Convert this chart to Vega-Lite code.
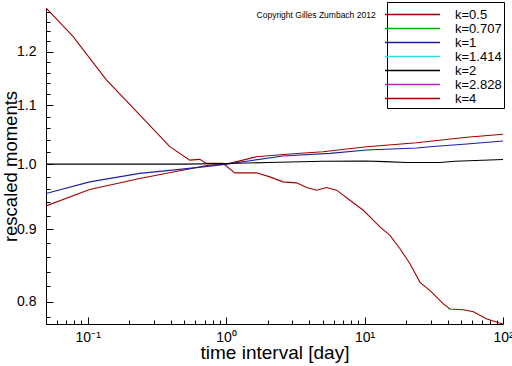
{
  "$schema": "https://vega.github.io/schema/vega-lite/v6.json",
  "width": 457,
  "height": 316,
  "autosize": {"type": "none"},
  "padding": {"left": 46, "top": 8, "right": 9, "bottom": 42},
  "background": "white",
  "config": {"view": {"stroke": null}, "font": "Liberation Sans"},
  "datasets": {
    "curves": [
      {"t": 0.05, "m": 1.288, "k": "k=4"},
      {"t": 0.0783, "m": 1.230, "k": "k=4"},
      {"t": 0.1365, "m": 1.1465, "k": "k=4"},
      {"t": 0.2377, "m": 1.083, "k": "k=4"},
      {"t": 0.3916, "m": 1.0286, "k": "k=4"},
      {"t": 0.5464, "m": 1.0065, "k": "k=4"},
      {"t": 0.6453, "m": 1.0077, "k": "k=4"},
      {"t": 0.7215, "m": 1.0011, "k": "k=4"},
      {"t": 0.9465, "m": 1.0011, "k": "k=4"},
      {"t": 1.156, "m": 0.9859, "k": "k=4"},
      {"t": 1.659, "m": 0.9859, "k": "k=4"},
      {"t": 2.07, "m": 0.9795, "k": "k=4"},
      {"t": 2.57, "m": 0.9716, "k": "k=4"},
      {"t": 3.228, "m": 0.970, "k": "k=4"},
      {"t": 3.814, "m": 0.9628, "k": "k=4"},
      {"t": 4.506, "m": 0.9586, "k": "k=4"},
      {"t": 5.321, "m": 0.9628, "k": "k=4"},
      {"t": 6.284, "m": 0.9586, "k": "k=4"},
      {"t": 7.843, "m": 0.9431, "k": "k=4"},
      {"t": 9.786, "m": 0.9279, "k": "k=4"},
      {"t": 10.94, "m": 0.9179, "k": "k=4"},
      {"t": 12.92, "m": 0.9031, "k": "k=4"},
      {"t": 15.26, "m": 0.8909, "k": "k=4"},
      {"t": 18.03, "m": 0.8717, "k": "k=4"},
      {"t": 21.29, "m": 0.8509, "k": "k=4"},
      {"t": 25.15, "m": 0.8255, "k": "k=4"},
      {"t": 29.71, "m": 0.8145, "k": "k=4"},
      {"t": 37.07, "m": 0.7971, "k": "k=4"},
      {"t": 41.45, "m": 0.7906, "k": "k=4"},
      {"t": 51.72, "m": 0.7897, "k": "k=4"},
      {"t": 61.09, "m": 0.7872, "k": "k=4"},
      {"t": 76.38, "m": 0.778, "k": "k=4"},
      {"t": 100, "m": 0.7716, "k": "k=4"},

      {"t": 0.05, "m": 0.9344, "k": "k=0.5"},
      {"t": 0.1034, "m": 0.9597, "k": "k=0.5"},
      {"t": 0.2377, "m": 0.977, "k": "k=0.5"},
      {"t": 0.4625, "m": 0.9892, "k": "k=0.5"},
      {"t": 0.7624, "m": 0.9984, "k": "k=0.5"},
      {"t": 1.0067, "m": 1.0, "k": "k=0.5"},
      {"t": 1.659, "m": 1.012, "k": "k=0.5"},
      {"t": 2.887, "m": 1.0164, "k": "k=0.5"},
      {"t": 5.003, "m": 1.0202, "k": "k=0.5"},
      {"t": 10.36, "m": 1.0286, "k": "k=0.5"},
      {"t": 23.81, "m": 1.0353, "k": "k=0.5"},
      {"t": 54.75, "m": 1.0444, "k": "k=0.5"},
      {"t": 100, "m": 1.0495, "k": "k=0.5"},

      {"t": 0.05, "m": 0.9535, "k": "k=1"},
      {"t": 0.1034, "m": 0.9716, "k": "k=1"},
      {"t": 0.2377, "m": 0.985, "k": "k=1"},
      {"t": 0.4625, "m": 0.9914, "k": "k=1"},
      {"t": 0.7624, "m": 0.9967, "k": "k=1"},
      {"t": 1.0067, "m": 1.0, "k": "k=1"},
      {"t": 1.484, "m": 1.0054, "k": "k=1"},
      {"t": 2.57, "m": 1.0131, "k": "k=1"},
      {"t": 5.619, "m": 1.0176, "k": "k=1"},
      {"t": 10.36, "m": 1.0231, "k": "k=1"},
      {"t": 23.81, "m": 1.0264, "k": "k=1"},
      {"t": 29.71, "m": 1.0286, "k": "k=1"},
      {"t": 54.75, "m": 1.0331, "k": "k=1"},
      {"t": 100, "m": 1.0381, "k": "k=1"},

      {"t": 0.05, "m": 1.0, "k": "k=2"},
      {"t": 0.5, "m": 1.0, "k": "k=2"},
      {"t": 1.0, "m": 1.001, "k": "k=2"},
      {"t": 2.0, "m": 1.0025, "k": "k=2"},
      {"t": 5.0, "m": 1.0045, "k": "k=2"},
      {"t": 10.0, "m": 1.005, "k": "k=2"},
      {"t": 14.0, "m": 1.004, "k": "k=2"},
      {"t": 20.0, "m": 1.0025, "k": "k=2"},
      {"t": 35.0, "m": 1.0025, "k": "k=2"},
      {"t": 45.0, "m": 1.0045, "k": "k=2"},
      {"t": 100, "m": 1.0075, "k": "k=2"}
    ],
    "notes": [{"label": "Copyright Gilles Zumbach 2012"}]
  },
  "layer": [
    {
      "data": {"name": "curves"},
      "mark": {"type": "line", "strokeWidth": 1.1, "clip": true},
      "encoding": {
        "x": {
          "field": "t",
          "type": "quantitative",
          "scale": {"type": "log", "domain": [0.05, 100], "nice": false},
          "axis": {
            "title": "time interval [day]",
            "values": [0.05, 0.06, 0.07, 0.08, 0.09, 0.1, 0.2, 0.3, 0.4, 0.5, 0.6, 0.7, 0.8, 0.9, 1, 2, 3, 4, 5, 6, 7, 8, 9, 10, 20, 30, 40, 50, 60, 70, 80, 90, 100],
            "labelExpr": "datum.value==0.1?'10⁻¹':datum.value==1?'10⁰':datum.value==10?'10¹':datum.value==100?'10²':''",
            "grid": false,
            "tickSize": {"condition": {"test": "datum.value==0.1||datum.value==1||datum.value==10||datum.value==100", "value": -7}, "value": -4},
            "tickColor": "black",
            "domainColor": "black",
            "labelColor": "black",
            "labelFontSize": 14,
            "labelPadding": 13,
            "labelFlush": false,
            "labelOverlap": false,
            "titleFontSize": 19,
            "titleFontWeight": "normal",
            "titleColor": "black",
            "titlePadding": -4
          }
        },
        "y": {
          "field": "m",
          "type": "quantitative",
          "scale": {"type": "log", "domain": [0.7716, 1.288], "nice": false, "zero": false},
          "axis": {
            "title": "rescaled moments",
            "values": [0.78, 0.8, 0.82, 0.84, 0.86, 0.88, 0.9, 0.92, 0.94, 0.96, 0.98, 1.0, 1.02, 1.04, 1.06, 1.08, 1.1, 1.12, 1.14, 1.16, 1.18, 1.2, 1.22, 1.24, 1.26, 1.28],
            "labelExpr": "abs(datum.value*10-round(datum.value*10))<0.001 ? format(datum.value,'.1f') : ''",
            "grid": false,
            "tickSize": {"condition": {"test": "abs(datum.value*10-round(datum.value*10))<0.001", "value": -7}, "value": -4},
            "tickColor": "black",
            "domainColor": "black",
            "labelColor": "black",
            "labelFontSize": 14,
            "labelPadding": 17,
            "labelOverlap": false,
            "titleFontSize": 18.5,
            "titleFontWeight": "normal",
            "titleColor": "black",
            "titlePadding": -4
          }
        },
        "color": {
          "field": "k",
          "type": "nominal",
          "scale": {
            "domain": ["k=0.5", "k=0.707", "k=1", "k=1.414", "k=2", "k=2.828", "k=4"],
            "range": ["#a00000", "#00b000", "#2020a0", "#30e0e0", "#000000", "#c020c0", "#a00000"]
          },
          "legend": {
            "orient": "none",
            "legendX": 341,
            "legendY": -6,
            "title": " ",
            "titleFontSize": 3,
            "titlePadding": 1,
            "strokeColor": "black",
            "fillColor": "white",
            "padding": 2,
            "symbolType": "M-5,0H5",
            "symbolSize": 121,
            "symbolOffset": 17,
            "symbolStrokeWidth": 1.5,
            "labelFontSize": 13,
            "labelColor": "black",
            "labelOffset": 36,
            "rowPadding": -1,
            "labelLimit": 0
          }
        }
      }
    },
    {
      "data": {"name": "notes"},
      "mark": {"type": "text", "align": "left", "baseline": "middle", "fontSize": 8.5, "color": "black"},
      "encoding": {
        "x": {"datum": 1.659, "type": "quantitative"},
        "y": {"datum": 1.274, "type": "quantitative"},
        "text": {"field": "label", "type": "nominal"}
      }
    }
  ]
}
